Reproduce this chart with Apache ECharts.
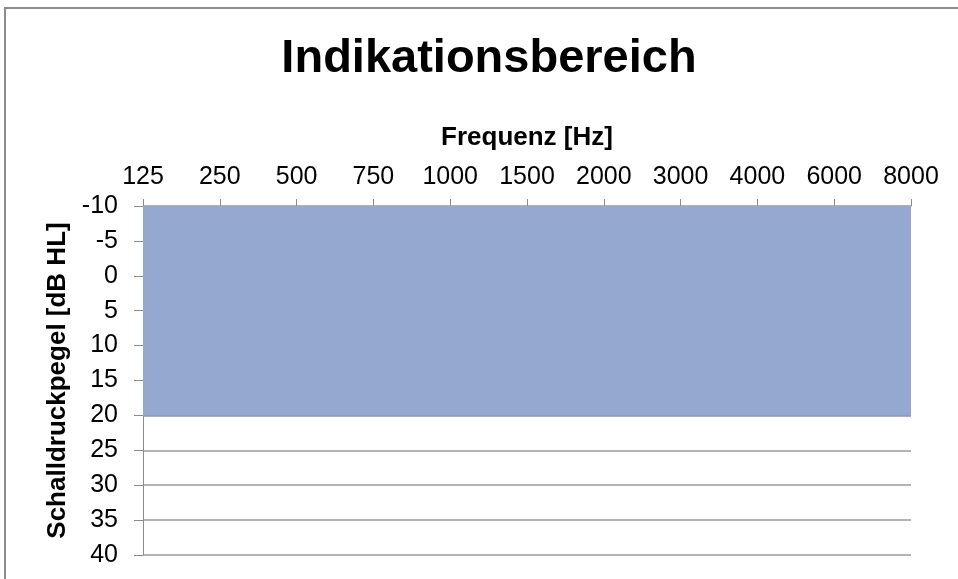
<!DOCTYPE html>
<html>
<head>
<meta charset="utf-8">
<script src="https://cdn.jsdelivr.net/npm/echarts@6/dist/echarts.min.js"></script>
<style>
  html, body { margin: 0; padding: 0; background: #fff; }
  #main { width: 958px; height: 579px; }
</style>
</head>
<body>
<div id="main"></div>
<script>
// Frequenzen (Hz) und Grenze des Indikationsbereichs (dB HL)
var frequencies = ['125', '250', '500', '750', '1000', '1500', '2000', '3000', '4000', '6000', '8000'];
var lowerLimit = [20, 20, 20, 20, 20, 20, 20, 20, 20, 20, 20];
var yMin = -10;
var yMax = 40;
var yStep = 5;

var myChart = echarts.init(document.getElementById('main'));

var option = {
  animation: false,
  title: {
    text: 'Indikationsbereich',
    left: 484,
    top: 31,
    textAlign: 'center',
    textStyle: {
      fontFamily: 'Liberation Sans',
      fontSize: 47,
      fontWeight: 'bold',
      color: '#000'
    }
  },
  graphic: [
    {
      type: 'polyline',
      shape: { points: [[5, 579], [5, 8], [958, 8]] },
      style: { stroke: '#8c8c8c', lineWidth: 2, fill: null }
    }
  ],
  grid: {
    left: 143,
    right: 47,
    top: 206,
    bottom: 24
  },
  xAxis: {
    type: 'category',
    position: 'top',
    boundaryGap: false,
    data: frequencies,
    name: 'Frequenz [Hz]',
    nameLocation: 'middle',
    nameGap: 55,
    nameTextStyle: {
      fontFamily: 'Liberation Sans',
      fontSize: 26,
      fontWeight: 'bold',
      color: '#000'
    },
    axisLine: { show: true, onZero: false, lineStyle: { color: '#8c8c8c', width: 1 } },
    axisTick: { show: true, length: 7, alignWithLabel: true, lineStyle: { color: '#8c8c8c' } },
    axisLabel: {
      margin: 16,
      fontFamily: 'Liberation Sans',
      fontSize: 25,
      color: '#000'
    },
    splitLine: { show: false }
  },
  yAxis: {
    type: 'value',
    inverse: true,
    min: yMin,
    max: yMax,
    interval: yStep,
    name: 'Schalldruckpegel [dB HL]',
    nameLocation: 'middle',
    nameGap: 69,
    nameRotate: 90,
    nameTextStyle: {
      fontFamily: 'Liberation Sans',
      fontSize: 26,
      fontWeight: 'bold',
      color: '#000'
    },
    axisLine: { show: true, onZero: false, lineStyle: { color: '#8c8c8c', width: 1 } },
    axisTick: { show: true, length: 9, lineStyle: { color: '#8c8c8c' } },
    axisLabel: {
      margin: 25,
      fontFamily: 'Liberation Sans',
      fontSize: 25,
      color: '#000'
    },
    splitLine: { show: true, lineStyle: { color: '#9a9a9a', width: 1.5 } }
  },
  series: [
    {
      name: 'Indikationsbereich',
      type: 'line',
      data: lowerLimit,
      symbol: 'none',
      label: { show: false },
      lineStyle: { color: '#8a9cbf', width: 1.5 },
      areaStyle: { color: '#94a8d0', opacity: 1, origin: 'start' },
      z: 3
    }
  ]
};

option && myChart.setOption(option);
</script>
</body>
</html>
